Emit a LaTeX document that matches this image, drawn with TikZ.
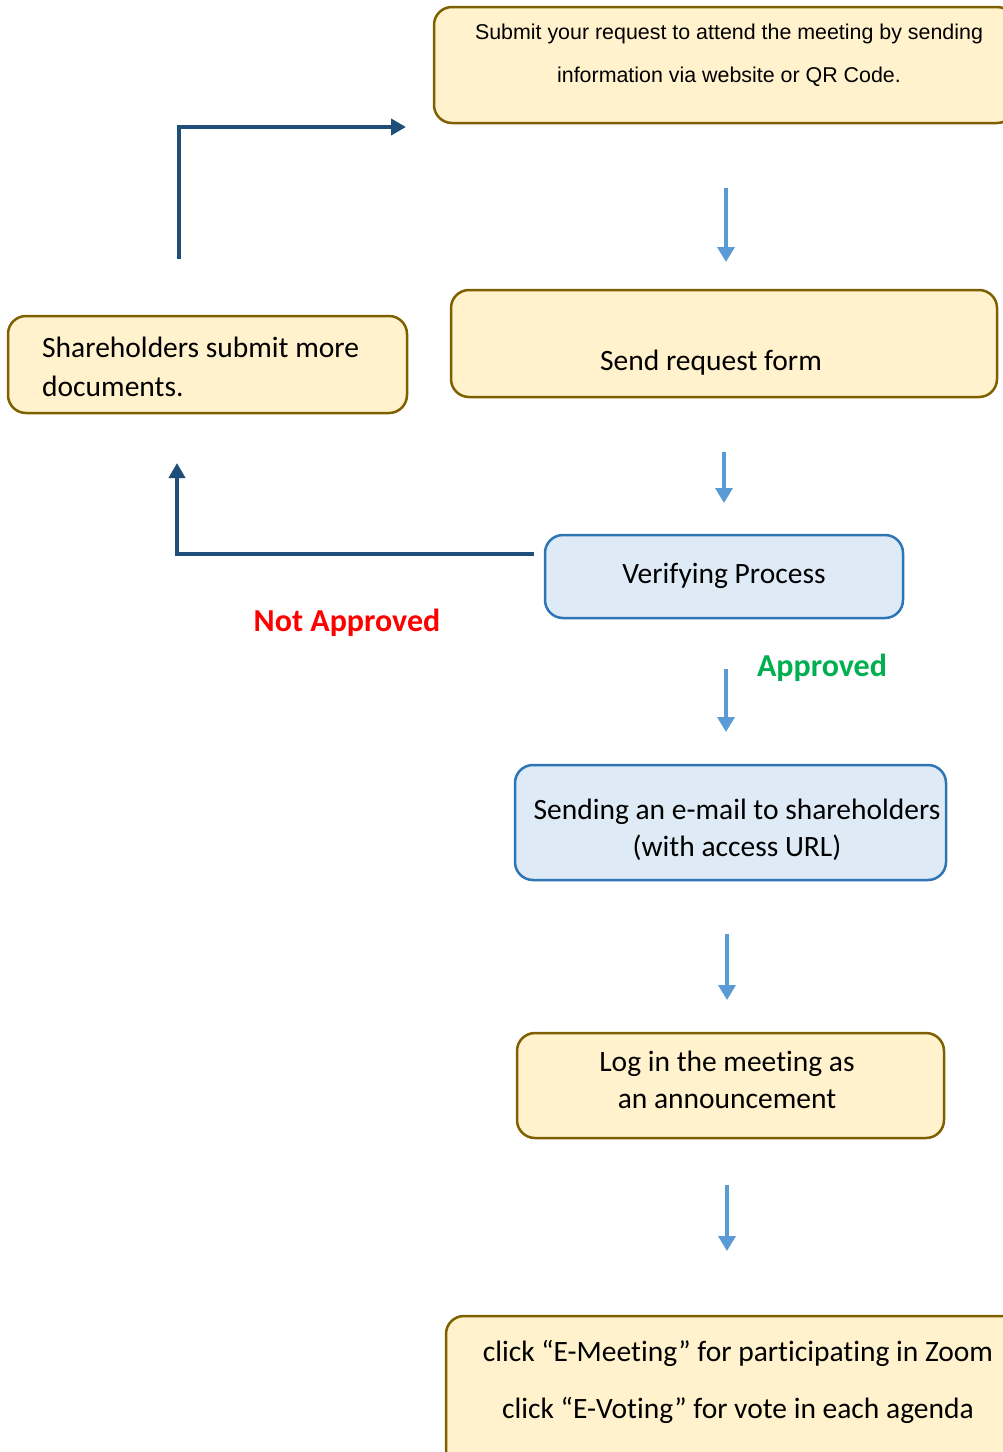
\documentclass[tikz,border=0pt]{standalone}
\usepackage{fontspec}
\setmainfont{Carlito}[Ligatures={NoCommon}]
\newfontfamily\arialfont{Liberation Sans}
\usetikzlibrary{arrows.meta}
\definecolor{ybox}{HTML}{FFF2CC}
\definecolor{ybord}{HTML}{7F6000}
\definecolor{bbox}{HTML}{DEEBF7}
\definecolor{bbord}{HTML}{2E75B6}
\definecolor{larrow}{HTML}{5B9BD5}
\definecolor{darrow}{HTML}{1F4E79}
\definecolor{okgreen}{HTML}{00B050}
\tikzset{
  ystyle/.style={draw=ybord, fill=ybox, line width=2.5pt, rounded corners=18pt},
  bstyle/.style={draw=bbord, fill=bbox, line width=2.5pt, rounded corners=18pt},
  txt/.style={font=\fontsize{29.5}{34}\selectfont, align=center, inner sep=0pt},
  flowarrow/.style={draw=larrow, line width=3.5pt, -{Triangle[width=17pt,length=15pt]}},
  backarrow/.style={draw=darrow, line width=4pt, -{Triangle[width=16pt,length=15pt]}},
}
\begin{document}
\begin{tikzpicture}[x=1pt,y=-1pt]
\useasboundingbox (0,0) rectangle (1003,1452);
\clip (0,0) rectangle (1003,1452);
\fill[white] (0,0) rectangle (1003,1452);
% boxes
\draw[ystyle] (434,7) rectangle (1015,123);
\node[inner sep=0pt, font=\arialfont\fontsize{21.4}{25}\selectfont] (t1) at (729,34) {Submit your request to attend the meeting by sending};
\node[inner sep=0pt, font=\arialfont\fontsize{21.4}{25}\selectfont] (t1b) at (729,77) {information via website or QR Code.};

\draw[ystyle] (451,290) rectangle (997,397);
\node[txt] (t2) at (711,363) {Send request form};

\draw[ystyle] (8,316) rectangle (407,413);
\node[txt, anchor=west] (t3) at (42,347) {Shareholders submit more};
\node[txt, anchor=west] (t3b) at (42,386) {documents.};

\draw[bstyle] (545,535) rectangle (903,618);
\node[txt] (t4) at (724,576) {Verifying Process};

\draw[bstyle] (515,765) rectangle (946,880);
\node[txt] (t5) at (737,812) {Sending an e-mail to shareholders};
\node[txt] (t5b) at (737,848) {(with access URL)};

\draw[ystyle] (517,1033) rectangle (944,1138);
\node[txt] (t6) at (727,1064) {Log in the meeting as};
\node[txt] (t6b) at (727,1099) {an announcement};

\draw[ystyle] (446,1316) rectangle (1020,1475);
\node[txt] (t7) at (738,1353) {click “E-Meeting” for participating in Zoom};
\node[txt] (t7b) at (738,1410) {click “E-Voting” for vote in each agenda};

% labels
\node[txt, font=\bfseries\fontsize{32}{36}\selectfont, text=red] (na) at (347,623) {Not Approved};
\node[txt, font=\bfseries\fontsize{32}{36}\selectfont, text=okgreen] (ap) at (822,668) {Approved};

% flow arrows
\coordinate (a1s) at (726,188); \coordinate (a1e) at (726,262);
\coordinate (a2s) at (724,452); \coordinate (a2e) at (724,503);
\coordinate (a3s) at (726,669); \coordinate (a3e) at (726,732);
\coordinate (a4s) at (727,934); \coordinate (a4e) at (727,1000);
\coordinate (a5s) at (727,1185); \coordinate (a5e) at (727,1251);
\draw[flowarrow] (a1s) -- (a1e);
\draw[flowarrow] (a2s) -- (a2e);
\draw[flowarrow] (a3s) -- (a3e);
\draw[flowarrow] (a4s) -- (a4e);
\draw[flowarrow] (a5s) -- (a5e);

% back arrows
\coordinate (b1s) at (179,259); \coordinate (b1e) at (406,127);
\draw[backarrow] (b1s) |- (b1e);
\coordinate (b2s) at (534,554); \coordinate (b2e) at (177,463);
\draw[backarrow] (b2s) -| (b2e);
\end{tikzpicture}
\end{document}
